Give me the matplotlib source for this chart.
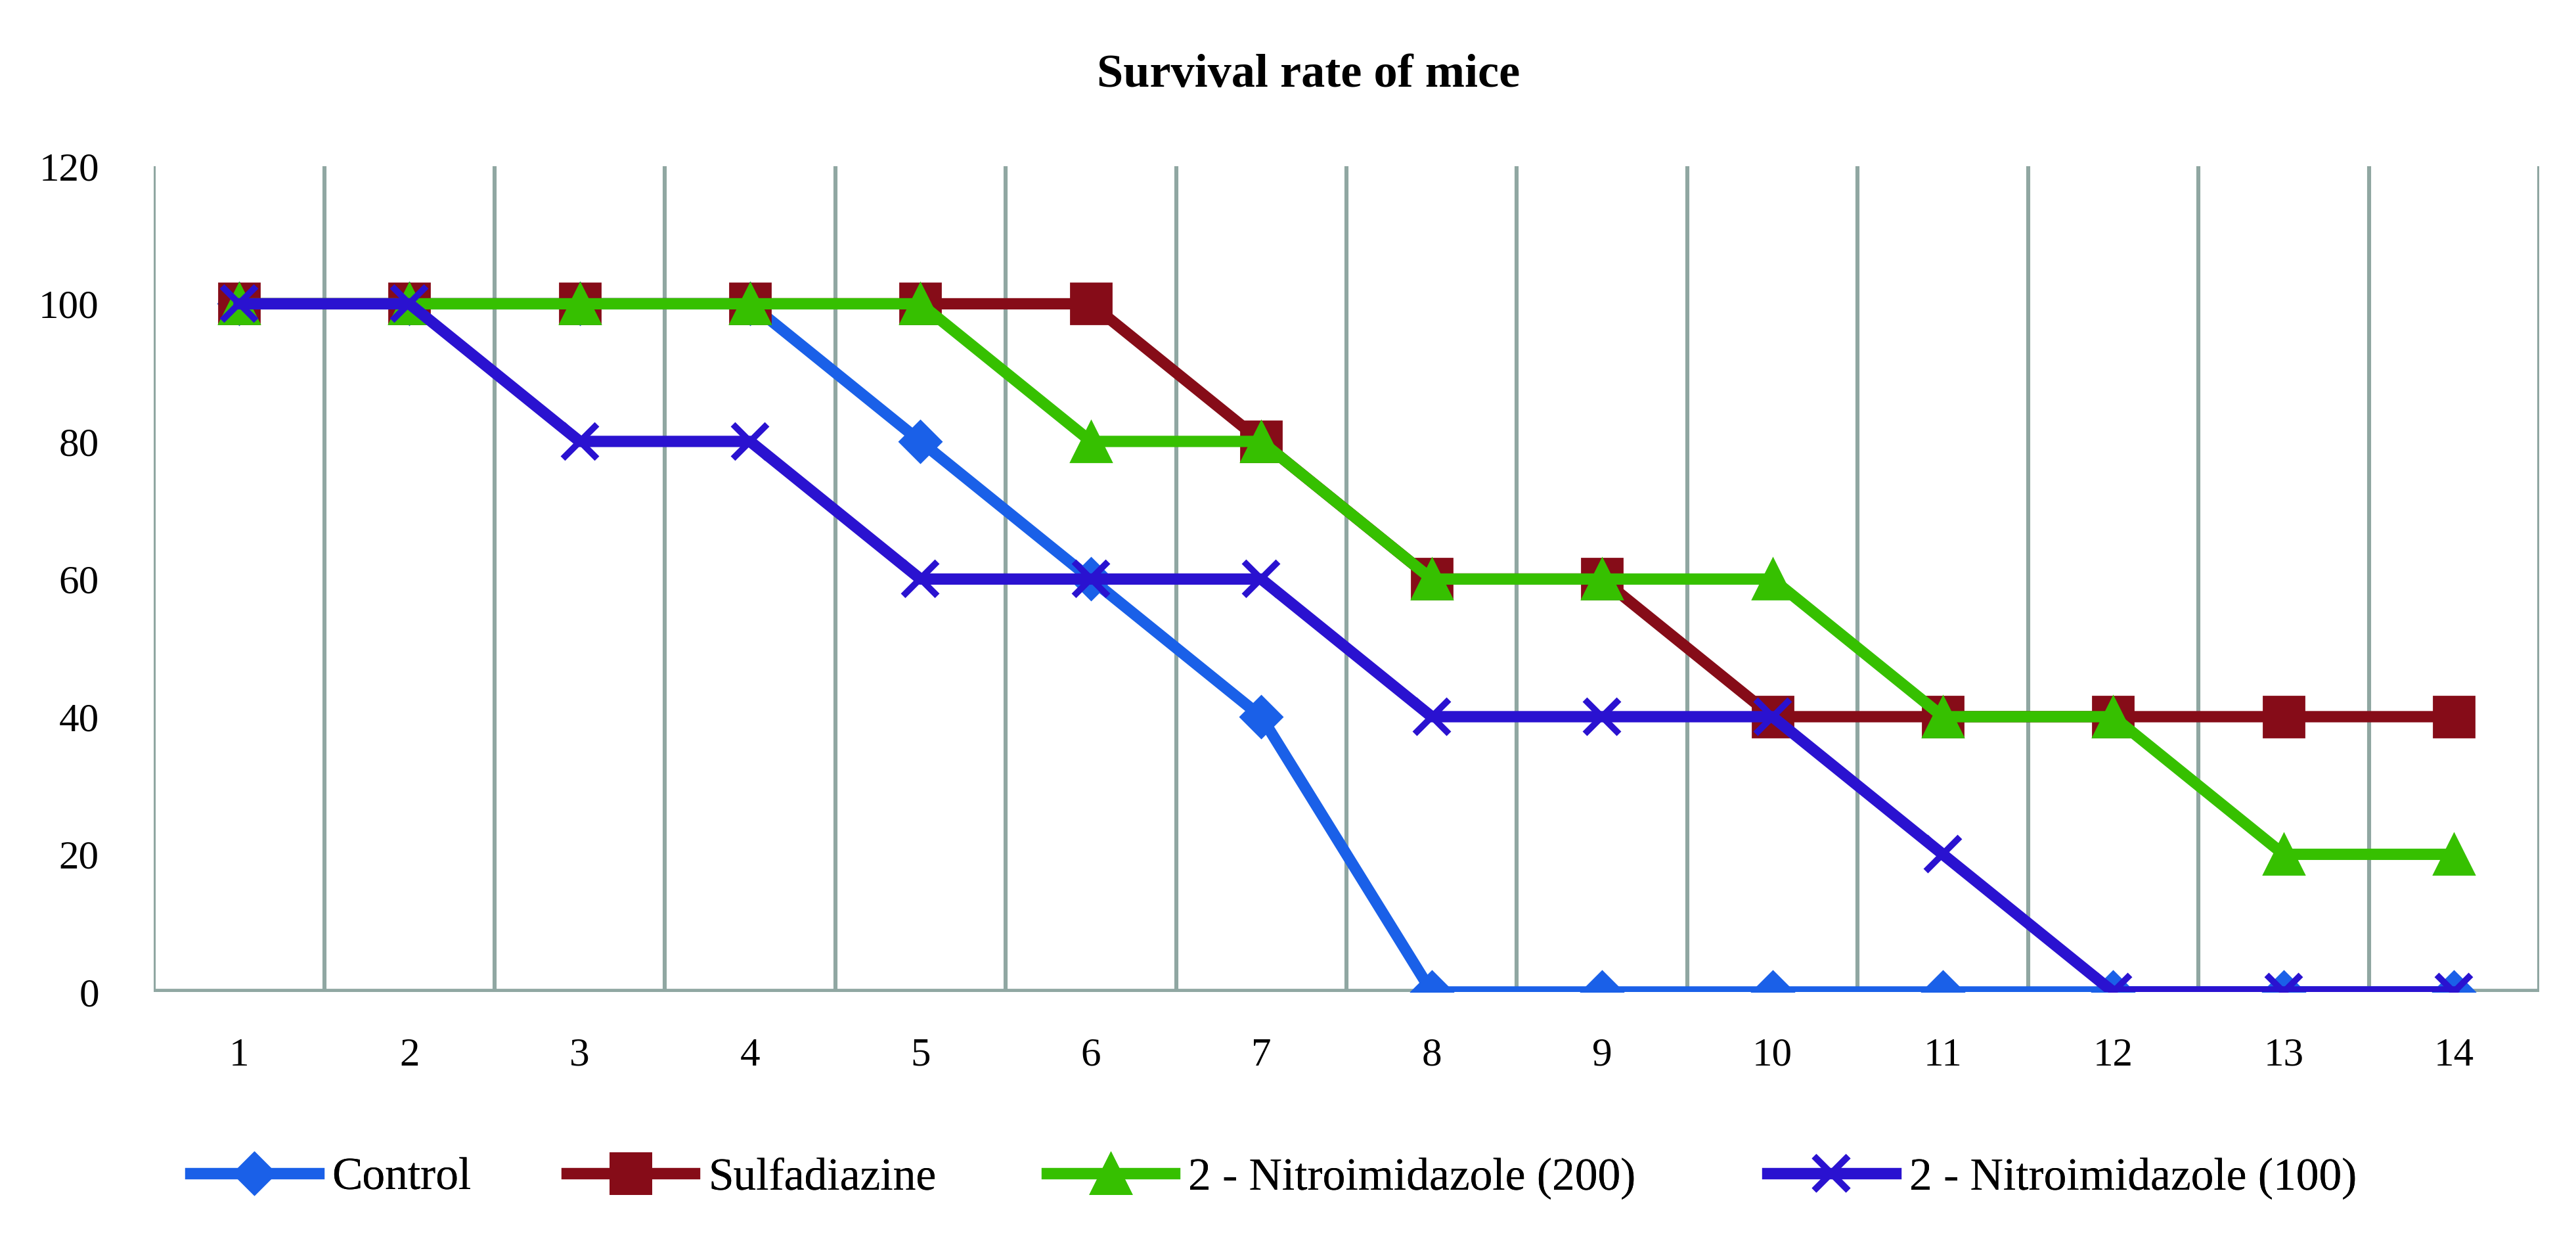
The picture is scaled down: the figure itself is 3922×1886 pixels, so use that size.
import matplotlib
matplotlib.use("Agg")
import matplotlib.pyplot as plt

days = list(range(1, 15))
control = [100, 100, 100, 100, 80, 60, 40, 0, 0, 0, 0, 0, 0, 0]
sulfadiazine = [100, 100, 100, 100, 100, 100, 80, 60, 60, 40, 40, 40, 40, 40]
nitro200 = [100, 100, 100, 100, 100, 80, 80, 60, 60, 60, 40, 40, 20, 20]
nitro100 = [100, 100, 80, 80, 60, 60, 60, 40, 40, 40, 20, 0, 0, 0]
labels = ["Control", "Sulfadiazine", "2 - Nitroimidazole (200)", "2 - Nitroimidazole (100)"]
yticks = [0, 20, 40, 60, 80, 100, 120]

plt.rcParams['font.family'] = ['Liberation Serif', 'DejaVu Serif']

fig = plt.figure(figsize=(19.61, 9.43), dpi=200)
ax = fig.add_axes([0.0597, 0.1994, 0.9260, 0.6665])

grid_c = '#90A7A2'
for b in [d - 0.5 for d in days] + [days[-1] + 0.5]:
    ax.axvline(b, color=grid_c, lw=2.2, zorder=1)
ax.axhline(0, color=grid_c, lw=3.5, zorder=1.5)

styles = [
    dict(color='#1A60E8', marker='D', ms=16.5, mec='#1A60E8', mew=1.0),
    dict(color='#860C18', marker='s', ms=22, mec='#860C18', mew=1.0),
    dict(color='#36C000', marker='^', ms=22, mec='#36C000', mew=1.0),
    dict(color='#2A12D0', marker='x', ms=19, mew=3.5),
]
series = [control, sulfadiazine, nitro200, nitro100]
handles = []
for i, (vals, st, lab) in enumerate(zip(series, styles, labels)):
    h, = ax.plot(days, vals, lw=6.2, label=lab, zorder=3 + i,
                 solid_joinstyle='round', **st)
    handles.append(h)

ax.set_xlim(0.5, 14.5)
ax.set_ylim(0, 120)
ax.set_xticks(days)
ax.set_xticklabels([str(d) for d in days])
ax.set_yticks(yticks)
ax.tick_params(axis='both', length=0, labelsize=22)
ax.tick_params(axis='y', pad=30)
ax.tick_params(axis='x', pad=25)
for s in ax.spines.values():
    s.set_visible(False)

fig.text(0.508, 0.930, "Survival rate of mice", ha='center', va='baseline',
         fontsize=26, fontweight='bold')

leg_x = [0.0740, 0.2200, 0.4063, 0.6862]
for h, lab, x in zip(handles, labels, leg_x):
    lg = fig.legend([h], [lab], loc='center left', bbox_to_anchor=(x, 0.049),
                    frameon=False, fontsize=25, handlelength=2.8,
                    handletextpad=0.3, borderpad=0, borderaxespad=0)
    fig.add_artist(lg)

fig.savefig("out.png", dpi=200)
